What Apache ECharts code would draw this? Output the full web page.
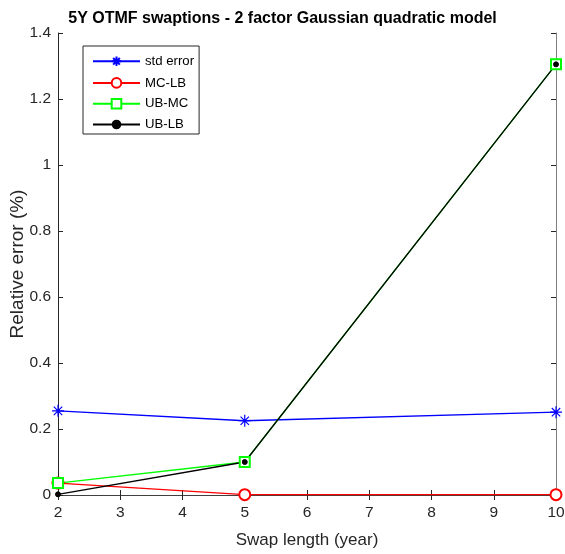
<!DOCTYPE html>
<html><head><meta charset="utf-8">
<script src="https://cdn.jsdelivr.net/npm/echarts@6/dist/echarts.min.js"></script>
<style>html,body{margin:0;padding:0;background:#fff}#c{width:565px;height:554px}</style>
</head><body><div id="c"></div>
<script>
const swapLengths = [2, 5, 10];
const stdError = [0.255, 0.225, 0.251];
const mcLb = [0.036, 0.001, 0.001];
const ubMc = [0.036, 0.100, 1.305];
const ubLb = [0.002, 0.100, 1.305];
const yTicks = [0, 0.2, 0.4, 0.6, 0.8, 1, 1.2, 1.4];

const asterisk = 'path://M0,-1L0,1M-1,0L1,0M-0.7,-0.7L0.7,0.7M-0.7,0.7L0.7,-0.7';
const pair = (ys) => swapLengths.map((x, i) => [x, ys[i]]);
const font = 'Liberation Sans, Arial, sans-serif';
const tc = '#262626';

const chart = echarts.init(document.getElementById('c'), null, {renderer: 'canvas'});
chart.setOption({
  animation: false,
  backgroundColor: '#fff',
  title: {text: '5Y OTMF swaptions - 2 factor Gaussian quadratic model', left: 'center', top: 6,
    textStyle: {fontFamily: font, fontSize: 16, fontWeight: 'bold', color: '#000'}},
  grid: {left: 58, right: 9, top: 33, bottom: 59, show: false, containLabel: false, outerBoundsMode: 'none'},
  legend: {
    orient: 'vertical', left: 83, top: 46, padding: [8, 5, 3, 9], itemGap: 7.8,
    itemWidth: 47, itemHeight: 12, borderColor: '#262626', borderWidth: 1, backgroundColor: '#fff',
    textStyle: {fontFamily: font, fontSize: 13.2, color: '#000'},
    data: ['std error', 'MC-LB', 'UB-MC', 'UB-LB']
  },
  xAxis: [{
    type: 'value', min: 2, max: 10, interval: 1,
    name: 'Swap length (year)', nameLocation: 'middle', nameGap: 37, nameMoveOverlap: false,
    nameTextStyle: {fontFamily: font, fontSize: 17, color: tc},
    axisLine: {lineStyle: {color: '#262626'}},
    axisTick: {inside: true, length: 5, lineStyle: {color: '#262626'}},
    axisLabel: {fontFamily: font, fontSize: 15.5, color: tc, margin: 10},
    splitLine: {show: false}
  }, {
    type: 'value', min: 2, max: 10, interval: 1, position: 'top',
    axisLine: {show: true, lineStyle: {color: '#404040'}},
    axisTick: {inside: true, length: 5, lineStyle: {color: '#262626'}},
    axisLabel: {show: false}, splitLine: {show: false}
  }],
  yAxis: [{
    type: 'value', min: 0, max: 1.4, interval: 0.2,
    name: 'Relative error (%)', nameLocation: 'middle', nameGap: 31, nameMoveOverlap: false,
    nameTextStyle: {fontFamily: font, fontSize: 19, color: tc},
    axisLine: {show: true, lineStyle: {color: '#262626'}},
    axisTick: {inside: true, length: 5, lineStyle: {color: '#262626'}},
    axisLabel: {fontFamily: font, fontSize: 15.5, color: tc, margin: 7,
      formatter: v => String(Math.round(v * 10) / 10)},
    splitLine: {show: false}
  }, {
    type: 'value', min: 0, max: 1.4, interval: 0.2, position: 'right',
    axisLine: {show: true, lineStyle: {color: '#808080'}},
    axisTick: {inside: true, length: 5, lineStyle: {color: '#262626'}},
    axisLabel: {show: false}, splitLine: {show: false}
  }],
  series: [
    {name: 'std error', type: 'line', data: pair(stdError), symbol: asterisk, symbolSize: 12,
      lineStyle: {color: '#0000ff', width: 1.3},
      itemStyle: {color: 'none', borderColor: '#0000ff', borderWidth: 1.2}},
    {name: 'MC-LB', type: 'line', data: pair(mcLb), symbol: 'emptyCircle', symbolSize: 11,
      lineStyle: {color: '#ff0000', width: 1.3},
      itemStyle: {color: '#ff0000', borderColor: '#ff0000', borderWidth: 1.2}},
    {name: 'UB-MC', type: 'line', data: pair(ubMc), symbol: 'emptyRect', symbolSize: 10,
      lineStyle: {color: '#00ff00', width: 1.3},
      itemStyle: {color: '#00ff00', borderColor: '#00ff00', borderWidth: 1.2}},
    {name: 'UB-LB', type: 'line', data: pair(ubLb), symbol: 'circle', symbolSize: 5,
      lineStyle: {color: '#000000', width: 1.3},
      itemStyle: {color: '#000000', borderColor: '#000000'}}
  ]
});
</script></body></html>
